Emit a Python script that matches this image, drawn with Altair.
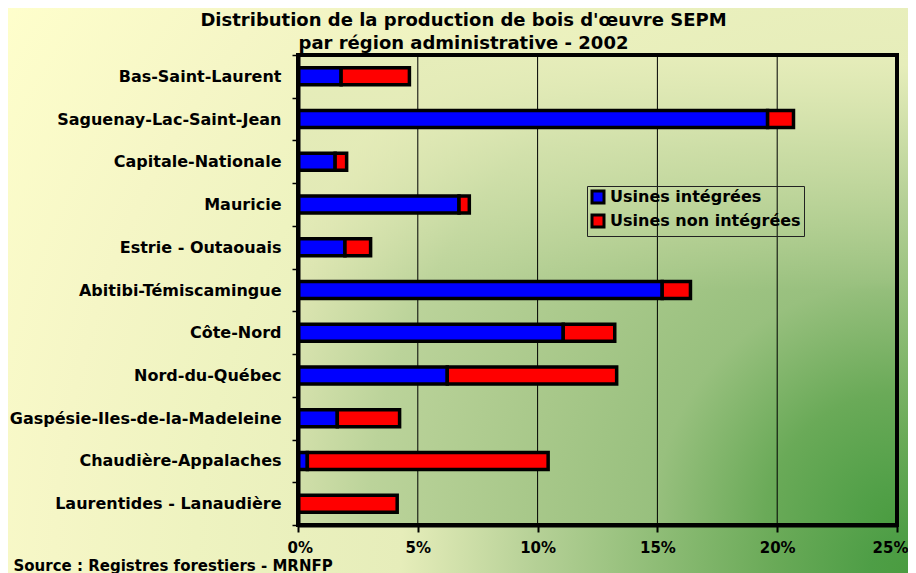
import altair as alt
import pandas as pd

# ---- data (percent of production) ----
regions = [
    "Bas-Saint-Laurent",
    "Saguenay-Lac-Saint-Jean",
    "Capitale-Nationale",
    "Mauricie",
    "Estrie - Outaouais",
    "Abitibi-Témiscamingue",
    "Côte-Nord",
    "Nord-du-Québec",
    "Gaspésie-Iles-de-la-Madeleine",
    "Chaudière-Appalaches",
    "Laurentides - Lanaudière",
]
integrees = [1.8, 19.6, 1.55, 6.72, 1.96, 15.2, 11.07, 6.23, 1.64, 0.39, 0.0]
non_integrees = [2.85, 1.08, 0.48, 0.43, 1.07, 1.18, 2.15, 7.07, 2.6, 10.05, 4.14]
series = ["Usines intégrées", "Usines non intégrées"]
series_colors = ["#0000FF", "#FF0000"]
x_ticks = [0, 0.05, 0.10, 0.15, 0.20, 0.25]
grid_ticks = [0.05, 0.10, 0.15, 0.20]
title_lines = ["Distribution de la production de bois d'œuvre SEPM",
               "par région administrative - 2002"]
source_text = "Source : Registres  forestiers - MRNFP"

rows = []
for r, a, b in zip(regions, integrees, non_integrees):
    rows.append({"region": r, "type": series[0], "value": a / 100, "ord": 0})
    rows.append({"region": r, "type": series[1], "value": b / 100, "ord": 1})
df = pd.DataFrame(rows)

# ---- layout ----
W, H = 599, 470
PAD = {"left": 290, "top": 47, "right": 11, "bottom": 48}
TW, TH = W + PAD["left"] + PAD["right"], H + PAD["top"] + PAD["bottom"]
FONT = "DejaVu Sans"


def radial_cy(w, h):
    s = max(w, h)
    return (h + (s - h) / 2) / s


chart_grad = {
    "gradient": "radial",
    "x1": 1, "y1": radial_cy(TW, TH), "r1": 0,
    "x2": 1, "y2": radial_cy(TW, TH), "r2": 1.2,
    "stops": [
        {"offset": 0, "color": "#4A9C40"},
        {"offset": 0.035, "color": "#4E9E46"},
        {"offset": 0.126, "color": "#6AAA58"},
        {"offset": 0.345, "color": "#B5D096"},
        {"offset": 0.47, "color": "#E6EDBA"},
        {"offset": 0.66, "color": "#EEF3C0"},
        {"offset": 0.79, "color": "#F5F6C6"},
        {"offset": 1, "color": "#FFFFCC"},
    ],
}
plot_grad = {
    "gradient": "radial",
    "x1": 1, "y1": radial_cy(W, H), "r1": 0,
    "x2": 1, "y2": radial_cy(W, H), "r2": 1.1,
    "stops": [
        {"offset": 0, "color": "#4A9C40"},
        {"offset": 0.06, "color": "#52A048"},
        {"offset": 0.2, "color": "#6AAA58"},
        {"offset": 0.37, "color": "#98C07E"},
        {"offset": 0.56, "color": "#A8C88A"},
        {"offset": 0.8, "color": "#BBD39A"},
        {"offset": 0.97, "color": "#DCE5B1"},
        {"offset": 1, "color": "#E0E8B4"},
    ],
}
top_fade = {
    "gradient": "linear", "x1": 0, "y1": 0, "x2": 0, "y2": 1,
    "stops": [
        {"offset": 0, "color": "rgba(230,237,186,1)"},
        {"offset": 0.2, "color": "rgba(230,237,186,0.55)"},
        {"offset": 0.5, "color": "rgba(230,237,186,0)"},
        {"offset": 1, "color": "rgba(230,237,186,0)"},
    ],
}

one = pd.DataFrame({"k": [0]})

chart_bg = alt.Chart(one).mark_rect(fill=chart_grad, strokeWidth=0).encode(
    x=alt.value(-PAD["left"]), x2=alt.value(W + PAD["right"]),
    y=alt.value(-PAD["top"]), y2=alt.value(H + PAD["bottom"]),
)
plot_bg = alt.Chart(one).mark_rect(fill=plot_grad, strokeWidth=0).encode(
    x=alt.value(0), x2=alt.value(W), y=alt.value(0), y2=alt.value(H),
)
plot_fade = alt.Chart(one).mark_rect(fill=top_fade, strokeWidth=0).encode(
    x=alt.value(0), x2=alt.value(W), y=alt.value(0), y2=alt.value(H),
)

x_scale = alt.Scale(domain=[0, 0.25], nice=False, zero=True)
x_axis = alt.Axis(
    values=x_ticks, format=".0%", grid=False, zindex=1,
    labelFont=FONT, labelFontSize=15, labelFontWeight="bold", labelColor="black",
    labelFlush=True, labelFlushOffset=11, labelPadding=8,
    domainColor="black", domainWidth=4, tickColor="black", tickWidth=2, tickSize=7,
    title=source_text, titleFont=FONT, titleFontSize=15, titleFontWeight="bold",
    titleColor="black", titleAnchor="start", titleAlign="left",
    titleBaseline="alphabetic", titleX=-285, titleY=45,
)

grid = alt.Chart(pd.DataFrame({"g": grid_ticks})).mark_rule(
    color="black", strokeWidth=1
).encode(x=alt.X("g:Q", scale=x_scale, axis=x_axis))

bars = alt.Chart(df).mark_bar(
    stroke="black", strokeWidth=3.5, size=17
).encode(
    y=alt.Y("region:N", sort=regions,
            scale=alt.Scale(paddingInner=0, paddingOuter=0),
            axis=alt.Axis(title=None, zindex=1, labelFont=FONT, labelFontSize=16,
                          labelFontWeight="bold", labelColor="black", labelLimit=400,
                          labelPadding=11, domainColor="black", domainWidth=4,
                          tickColor="black", tickWidth=1.5, tickSize=6,
                          tickBand="extent")),
    x=alt.X("value:Q", stack="zero", scale=x_scale, axis=x_axis),
    color=alt.Color("type:N", scale=alt.Scale(domain=series, range=series_colors),
                    legend=alt.Legend(
                        title=None, orient="none", legendX=289, legendY=131,
                        direction="vertical",
                        strokeColor="#222222", padding=3,
                        labelFont=FONT, labelFontSize=16, labelFontWeight="bold",
                        labelColor="black", labelOffset=4, labelLimit=400,
                        symbolType="square", symbolSize=144,
                        symbolStrokeColor="black", symbolStrokeWidth=3,
                        symbolOpacity=1, rowPadding=0)),
    order=alt.Order("ord:Q"),
)

frame = alt.Chart(one).mark_rect(filled=False, stroke="black", strokeWidth=4).encode(
    x=alt.value(0), x2=alt.value(W), y=alt.value(0), y2=alt.value(H),
)

chart = alt.layer(chart_bg, plot_bg, plot_fade, grid, bars, frame).properties(
    width=W, height=H,
    padding=PAD,
    autosize=alt.AutoSizeParams(type="none"),
    title=alt.TitleParams(text=title_lines, font=FONT, fontSize=18,
                          fontWeight="bold", color="black", anchor="middle",
                          frame="group", dx=-134, offset=-45, lineHeight=23),
).configure_view(strokeWidth=0)

chart.save("out.html", embed_options={"renderer": "svg", "actions": False})
